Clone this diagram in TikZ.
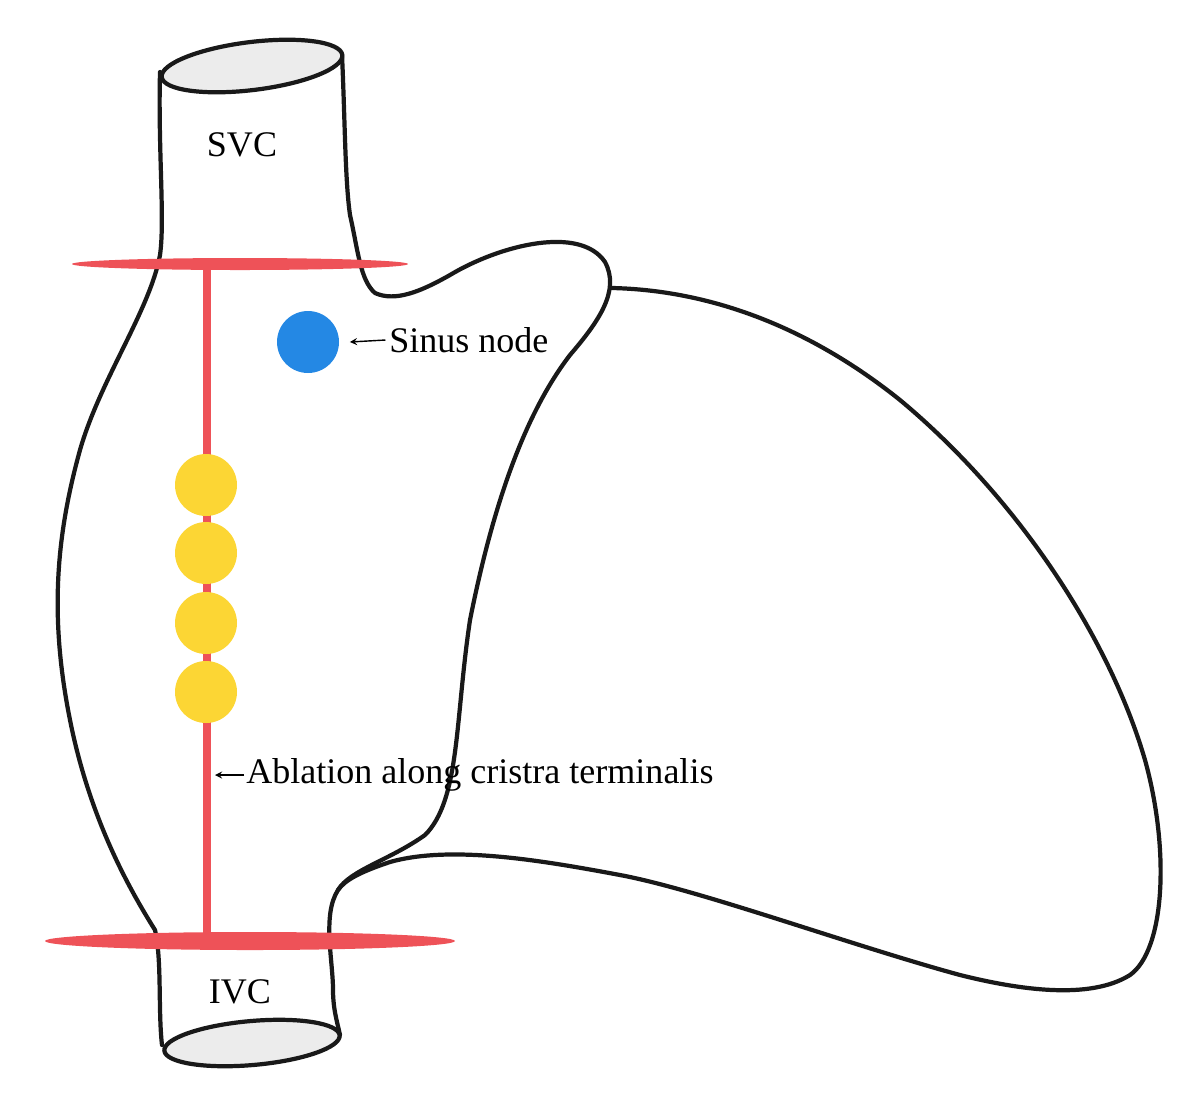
\documentclass[tikz,border=0pt]{standalone}
\usepackage{fontspec}
\setmainfont{Liberation Serif}
\begin{document}
\begin{tikzpicture}[x=0.02cm,y=-0.02cm,
  outline/.style={draw=black!90,line width=2.4pt,line join=round,line cap=round},
  lbl/.style={font=\fontsize{20.5}{24}\selectfont,inner sep=0pt,anchor=west},
  dot/.style={circle,minimum size=62*0.02cm,inner sep=0pt}]
\useasboundingbox (0,0) rectangle (1200,1100);
\definecolor{rd}{RGB}{238,82,88}
\definecolor{yl}{RGB}{252,214,52}
\definecolor{bl}{RGB}{36,136,228}
% vena cava body
\draw[outline] (160,72) .. controls (158,150) and (165,220) .. (160,255)
  .. controls (150,310) and (100,380) .. (80,450)
  .. controls (55,540) and (50,620) .. (70,720)
  .. controls (90,820) and (130,890) .. (155,930)
  .. controls (162,960) and (158,1010) .. (162,1045);
\draw[outline] (342,55) .. controls (345,120) and (345,180) .. (350,215)
  .. controls (358,250) and (360,280) .. (375,293)
  .. controls (395,302) and (420,292) .. (450,275)
  .. controls (500,245) and (580,225) .. (605,262)
  .. controls (620,290) and (600,320) .. (570,355)
  .. controls (520,420) and (490,520) .. (470,620)
  .. controls (455,720) and (460,800) .. (425,835)
  .. controls (390,860) and (350,870) .. (338,890)
  .. controls (322,915) and (333,960) .. (333,990)
  .. controls (333,1010) and (338,1025) .. (340,1035);
% appendage
\draw[outline] (612,288) .. controls (700,290) and (800,320) .. (900,400)
  .. controls (1020,500) and (1110,640) .. (1145,760)
  .. controls (1170,850) and (1165,950) .. (1130,975)
  .. controls (1090,1000) and (1020,990) .. (960,975)
  .. controls (850,945) and (700,890) .. (620,875)
  .. controls (540,860) and (450,845) .. (390,862)
  .. controls (360,872) and (345,880) .. (338,890);
% end ellipses
\draw[outline,fill=gray!15,rotate around={7:(252,66)}] (252,66) ellipse [x radius=91,y radius=24];
\draw[outline,fill=gray!15,rotate around={5:(252,1043)}] (252,1043) ellipse [x radius=88,y radius=22];
% ablation
\fill[rd] (240,264) ellipse [x radius=168,y radius=6];
\fill[rd] (250,941) ellipse [x radius=205,y radius=9];
\coordinate (lt) at (207,264);
\coordinate (lb) at (207,941);
\draw[rd,line width=4.6pt] (lt) -- (lb);
\foreach \y/\n in {485/a,553/b,623/c,692/d}
  \node[dot,fill=yl] (y\n) at (206,\y) {};
\node[dot,fill=bl] (sn) at (308,342) {};
% labels
\node[lbl] (snl) at (389,340) {Sinus node};
\draw[->,line width=0.8pt,>=stealth] ([xshift=-2pt]snl.west) -- ([xshift=6pt]sn.east);
\coordinate (ab) at (215,775);
\node[lbl] (abl) at (246,775) {Ablation along cristra terminalis};
\draw[->,line width=0.8pt,>=stealth] ([xshift=-1pt]abl.west) -- (ab);
\node[font=\fontsize{20.5}{24}\selectfont] (svc) at (242,145) {SVC};
\node[font=\fontsize{20.5}{24}\selectfont] (ivc) at (240,992) {IVC};
\end{tikzpicture}
\end{document}
